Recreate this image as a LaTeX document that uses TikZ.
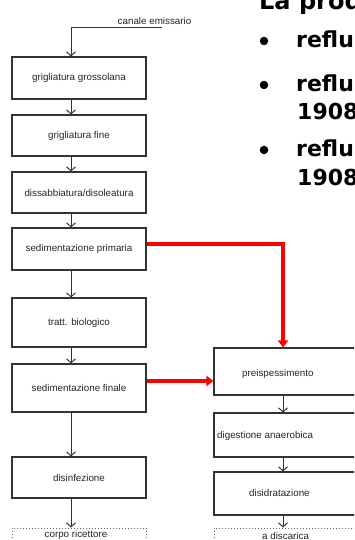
\documentclass[tikz,border=0pt]{standalone}
\usepackage{fontspec}
\setmainfont{Liberation Sans}
\newfontfamily\slidefont{DejaVu Sans}
\usetikzlibrary{arrows.meta}
\begin{document}
\begin{tikzpicture}[x=1pt,y=-1pt,
  box/.style={draw=black!80, line width=1.1pt, inner sep=0pt, minimum width=134pt,
    font=\fontsize{9.8}{12}\selectfont, text=black!85},
  rbox/.style={draw=black!80, line width=1.1pt, inner sep=0pt, minimum width=170pt},
  dotbox/.style={draw=black!60, dotted, line width=1pt, inner sep=0pt},
  lbl/.style={inner sep=0pt, font=\fontsize{9.8}{12}\selectfont, text=black!85},
  flow/.style={draw=black!80, line width=1pt, -{Straight Barb[length=4pt,width=9pt]}},
  redflow/.style={draw=red, line width=4pt, -{Triangle[length=7pt,width=10pt]}},
  slide/.style={inner sep=0pt, anchor=base west, font=\slidefont\bfseries\fontsize{22}{26}\selectfont},
  dot/.style={circle, fill=black, inner sep=0pt, minimum size=8.5pt}]
\clip (0,0) rectangle (354,540);
\fill[white] (0,0) rectangle (354,540);
% slide text
\node[slide, font=\slidefont\bfseries\fontsize{24}{28}\selectfont] (title) at (259,10) {La prod};
\node[dot] (d1) at (264,41) {};
\node[dot] (d2) at (264,85) {};
\node[dot] (d3) at (264,150) {};
\node[slide] (s1) at (296,48) {reflu};
\node[slide] (s2) at (296,92) {reflu};
\node[slide] (s2b) at (297,120) {1908};
\node[slide] (s3) at (296,157) {reflu};
\node[slide] (s3b) at (297,185) {1908};
% left column
\coordinate (ax) at (71,0);
\coordinate (bx) at (283,0);
\node[lbl] (ce) at (154.5,21) {canale emissario};
\coordinate (cestart) at (162,28);
\node[box, minimum height=42pt] (b1) at (79,78) {grigliatura grossolana};
\node[box, minimum height=41pt] (b2) at (79,135.5) {grigliatura fine};
\node[box, minimum height=41pt] (b3) at (79,192.5) {dissabbiatura/disoleatura};
\node[box, minimum height=42pt] (b4) at (79,249) {sedimentazione primaria};
\node[box, minimum height=49pt] (b5) at (79,322.5) {tratt. biologico};
\node[box, minimum height=48pt] (b6) at (79,388) {sedimentazione finale};
\node[box, minimum height=41pt] (b7) at (79,477.5) {disinfezione};
\node[dotbox, minimum width=134pt, minimum height=32pt] (b8) at (79,544) {};
\node[lbl] (t8) at (76,535) {corpo ricettore};
% right column
\node[rbox, minimum height=47pt] (r1) at (299,371.5) {};
\node[rbox, minimum height=44pt] (r2) at (299,435) {};
\node[rbox, minimum height=43pt] (r3) at (299,493.5) {};
\node[dotbox, minimum width=170pt, minimum height=32pt] (r4) at (299,544) {};
\node[lbl, anchor=west] (tr1) at (242,374) {preispessimento};
\node[lbl, anchor=west] (tr2) at (217,436) {digestione anaerobica};
\node[lbl, anchor=west] (tr3) at (249,493) {disidratazione};
\node[lbl, anchor=west] (tr4) at (262,536) {a discarica};
% black arrows
\draw[flow] (cestart) -| (b1.north -| ax);
\draw[flow] (b1.south -| ax) -- (b2.north -| ax);
\draw[flow] (b2.south -| ax) -- (b3.north -| ax);
\draw[flow] (b3.south -| ax) -- (b4.north -| ax);
\draw[flow] (b4.south -| ax) -- (b5.north -| ax);
\draw[flow] (b5.south -| ax) -- (b6.north -| ax);
\draw[flow] (b6.south -| ax) -- (b7.north -| ax);
\draw[flow] (b7.south -| ax) -- (b8.north -| ax);
\draw[flow] (r1.south -| bx) -- (r2.north -| bx);
\draw[flow] (r2.south -| bx) -- (r3.north -| bx);
\draw[flow] (r3.south -| bx) -- (r4.north -| bx);
% red arrows
\draw[redflow] ([yshift=5pt]b4.east) -| (r1.north -| bx);
\draw[redflow] ([yshift=7pt]b6.east) -- ([yshift=7pt]b6.east -| r1.west);
\end{tikzpicture}
\end{document}
